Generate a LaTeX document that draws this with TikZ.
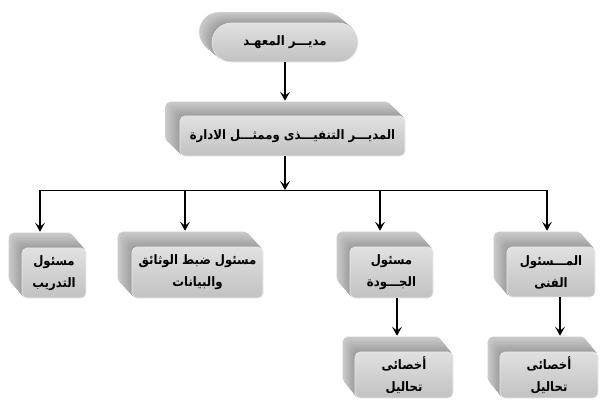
\documentclass[tikz,border=0pt]{standalone}
\usepackage{fontspec}
\newfontfamily\arabicfont[Script=Arabic,FakeStretch=0.9]{DejaVu Sans}
\TeXXeTstate=1
\usetikzlibrary{calc,arrows.meta}
\pgfdeclarelayer{background}
\pgfdeclarelayer{paper}
\pgfsetlayers{paper,background,main}
\newcommand\arl[1]{\beginR #1\endR}
\newcommand\extrude[4]{%
  \begin{pgfonlayer}{background}
  \foreach \k in {16,15,...,1}{
    \pgfmathsetmacro\pc{20+(16-\k)/15*17}
    \fill[black!\pc, rounded corners=#4]
      ($(#1.south west)+(-\k*#2/16,-\k*#3/16)$) rectangle
      ($(#1.north east)+(-\k*#2/16,-\k*#3/16)$);
  }
  \end{pgfonlayer}}
\tikzset{
  front/.style={draw=black!8, line width=0.6pt, top color=black!12, bottom color=black!24,
    rounded corners=5pt, inner sep=0pt, align=center,
    font=\arabicfont\bfseries\fontsize{13}{22}\selectfont},
  arr/.style={line width=1.6pt, -{Stealth[length=9pt,width=10pt,inset=4pt]}},
  bus/.style={line width=1pt}
}
\begin{document}
\begin{tikzpicture}[x=1pt,y=-1pt]
\begin{pgfonlayer}{paper}
\fill[white] (0,0) rectangle (600,410);
\end{pgfonlayer}
\useasboundingbox (0,0) rectangle (600,410);

% nodes
\node[front, rounded corners=19.5pt, minimum width=146, minimum height=39] (dir) at (285,42.5)
  {\arl{مديـــر المعهـد}};
\node[front, minimum width=225, minimum height=40] (exec) at (292.5,136)
  {\arl{المديـــر التنفيـــذى وممثـــل الادارة}};
\node[front, minimum width=64, minimum height=50] (b1) at (54,273)
  {\arl{مسئول}\\\arl{التدريب}};
\node[front, minimum width=131, minimum height=51] (b2) at (197.5,272.5)
  {\arl{مسئول ضبط الوثائق}\\\arl{والبيانات}};
\node[front, minimum width=83, minimum height=51] (b3) at (391.5,272.5)
  {\arl{مسئول}\\\arl{الجـــودة}};
\node[front, minimum width=88, minimum height=50] (b4) at (551,272)
  {\arl{المـــسئول}\\\arl{الفنى}};
\node[front, minimum width=98, minimum height=46] (s1) at (404,375)
  {\arl{أخصائى}\\\arl{تحاليل}};
\node[front, minimum width=98, minimum height=46] (s2) at (549,375)
  {\arl{أخصائى}\\\arl{تحاليل}};

% extrusions
\extrude{dir}{12.5}{10.5}{19.5pt}
\extrude{exec}{14.5}{14}{5pt}
\extrude{b1}{13}{15}{5pt}
\extrude{b2}{14}{15}{5pt}
\extrude{b3}{13}{15}{5pt}
\extrude{b4}{13}{15}{5pt}
\extrude{s1}{12}{15}{5pt}
\extrude{s2}{12}{15}{5pt}

% bus coordinates
\coordinate (busc) at (285,190);
\coordinate (t1) at (40,190);
\coordinate (t2) at (185,190);
\coordinate (t3) at (380,190);
\coordinate (t4) at (547,190);
\coordinate (a5) at (397,0);
\coordinate (a6) at (560,0);

% connectors
\draw[arr] (dir.south) -- ($(dir.south |- exec.north)+(0,-15)$);
\draw[arr] (busc |- exec.south) -- (busc);
\draw[bus] (t1) -- (t4);
\draw[arr] (t1) -- ($(t1 |- b1.north)+(0,-16)$);
\draw[arr] (t2) -- ($(t2 |- b2.north)+(0,-16)$);
\draw[arr] (t3) -- ($(t3 |- b3.north)+(0,-16)$);
\draw[arr] (t4) -- ($(t4 |- b4.north)+(0,-16)$);
\draw[arr] (b3.south -| a5) -- ($(s1.north -| a5)+(0,-16)$);
\draw[arr] (b4.south -| a6) -- ($(s2.north -| a6)+(0,-16)$);
\end{tikzpicture}
\end{document}
